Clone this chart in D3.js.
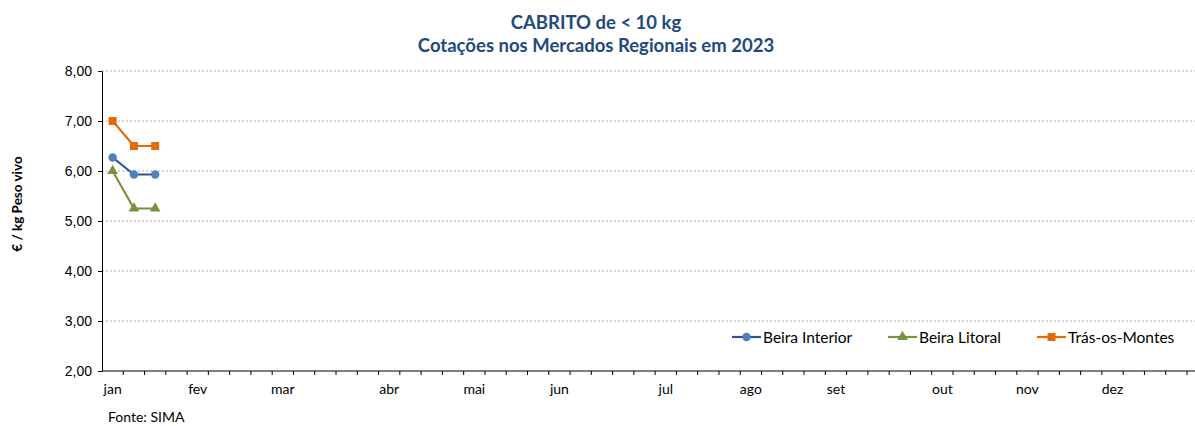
<!DOCTYPE html>
<html lang="pt">
<head>
  <meta charset="UTF-8">
  <title>CABRITO de &lt; 10 kg</title>
  <script src="https://d3js.org/d3.v7.min.js"></script>
  <style>
    body { margin: 0; padding: 0; background: white; }
    svg { display: block; font-family: Lato, "Open Sans", sans-serif; }
    .grid line { stroke: #b0b0b0; stroke-dasharray: 2,2; stroke-width: 1; }
    .axis path, .axis line { stroke: #000; }
    .axis text { font-size: 14px; fill: #000; }
  </style>
</head>
<body>
<script>
  // month labels and how many weekly points each month has
  const months = ["jan","fev","mar","abr","mai","jun","jul","ago","set","out","nov","dez"];
  const monthWeeks = [4, 4, 5, 4, 4, 5, 4, 4, 5, 4, 4, 4];

  // weekly prices (€/kg peso vivo)
  const beiraInterior = [6.27, 5.93, 5.93];
  const beiraLitoral = [6.00, 5.25, 5.25];
  const trasOsMontes = [7.00, 6.50, 6.50];

  const yTicks = [2, 3, 4, 5, 6, 7, 8];

  const width = 1195, height = 426;
  const margin = { left: 102, right: 8, top: 71, bottom: 55 };

  // build week categories, label only first week of each month
  const weeks = [];
  const weekLabel = {};
  let w = 0;
  monthWeeks.forEach((n, i) => {
    for (let k = 0; k < n; k++) {
      w++;
      weeks.push(w);
      if (k === 0) weekLabel[w] = months[i];
    }
  });

  const series = [
    { name: "Beira Interior", values: beiraInterior, line: "#2F5597", fill: "#4F81BD", marker: "circle" },
    { name: "Beira Litoral", values: beiraLitoral, line: "#77933C", fill: "#77933C", marker: "triangle" },
    { name: "Trás-os-Montes", values: trasOsMontes, line: "#E36C09", fill: "#E36C09", marker: "square" }
  ];

  const svg = d3.select("body").append("svg")
    .attr("width", width)
    .attr("height", height);

  const x = d3.scaleBand()
    .domain(weeks)
    .range([margin.left, width - margin.right]);

  const y = d3.scaleLinear()
    .domain([2, 8])
    .range([height - margin.bottom, margin.top]);

  // gridlines (run to the right edge like the source)
  svg.append("g")
    .attr("class", "grid")
    .selectAll("line")
    .data(yTicks.slice(1))
    .enter().append("line")
    .attr("x1", margin.left)
    .attr("x2", width)
    .attr("y1", d => y(d))
    .attr("y2", d => y(d));

  // y axis
  svg.append("g")
    .attr("class", "axis")
    .attr("transform", `translate(${margin.left},0)`)
    .call(d3.axisLeft(y).tickValues(yTicks).tickSize(4).tickSizeOuter(0)
      .tickFormat(d => d3.format(".2f")(d).replace(".", ",")))
    .call(g => g.selectAll("text").attr("dx", "-3"));

  // x axis: ticks at week boundaries, month labels centred on week
  const xAxis = svg.append("g")
    .attr("class", "axis")
    .attr("transform", `translate(0,${height - margin.bottom})`);
  xAxis.append("line")
    .attr("x1", margin.left).attr("x2", width)
    .attr("stroke", "#000");
  xAxis.selectAll(".wtick")
    .data(weeks)
    .enter().append("line")
    .attr("class", "wtick")
    .attr("x1", d => x(d) + x.bandwidth())
    .attr("x2", d => x(d) + x.bandwidth())
    .attr("y1", 0).attr("y2", 4);
  xAxis.selectAll("text")
    .data(weeks.filter(d => weekLabel[d]))
    .enter().append("text")
    .attr("x", d => x(d) + x.bandwidth() / 2)
    .attr("y", 23)
    .attr("text-anchor", "middle")
    .text(d => weekLabel[d]);

  const cx = i => x(weeks[i]) + x.bandwidth() / 2;

  function drawMarker(g, type, color, px, py) {
    if (type === "circle") {
      g.append("circle").attr("cx", px).attr("cy", py).attr("r", 4.2).attr("fill", color);
    } else if (type === "square") {
      g.append("rect").attr("x", px - 4).attr("y", py - 4).attr("width", 8).attr("height", 8).attr("fill", color);
    } else {
      g.append("path")
        .attr("d", d3.symbol().type(d3.symbolTriangle).size(50)())
        .attr("transform", `translate(${px},${py})`)
        .attr("fill", color);
    }
  }

  const line = d3.line()
    .x((d, i) => cx(i))
    .y(d => y(d));

  series.forEach(s => {
    const g = svg.append("g");
    g.append("path")
      .datum(s.values)
      .attr("fill", "none")
      .attr("stroke", s.line)
      .attr("stroke-width", 2.2)
      .attr("d", line);
    s.values.forEach((v, i) => drawMarker(g, s.marker, s.fill, cx(i), y(v)));
  });

  // legend
  const legendX = [732, 888, 1037];
  series.forEach((s, i) => {
    const g = svg.append("g").attr("transform", `translate(${legendX[i]},337)`);
    g.append("line").attr("x1", 0).attr("x2", 29).attr("stroke", s.line).attr("stroke-width", 2.2);
    drawMarker(g, s.marker, s.fill, 14.5, 0);
    g.append("text")
      .attr("x", 31).attr("y", 5.5)
      .attr("font-size", "15.5px")
      .text(s.name);
  });

  // title
  const cxTitle = 596;
  svg.append("text")
    .attr("x", cxTitle).attr("y", 29)
    .attr("text-anchor", "middle")
    .attr("font-weight", "bold").attr("font-size", "18.5px").attr("fill", "#1F497D")
    .text("CABRITO de < 10 kg");
  svg.append("text")
    .attr("x", cxTitle).attr("y", 52)
    .attr("text-anchor", "middle")
    .attr("font-weight", "bold").attr("font-size", "18.5px").attr("fill", "#1F497D")
    .text("Cotações nos Mercados Regionais em 2023");

  // y label
  svg.append("text")
    .attr("transform", "translate(22,204) rotate(-90)")
    .attr("text-anchor", "middle")
    .attr("font-weight", "bold").attr("font-size", "13.5px")
    .text("€ / kg Peso vivo");

  // source
  svg.append("text")
    .attr("x", 108).attr("y", 422)
    .attr("font-size", "14px")
    .text("Fonte: SIMA");
</script>
</body>
</html>
